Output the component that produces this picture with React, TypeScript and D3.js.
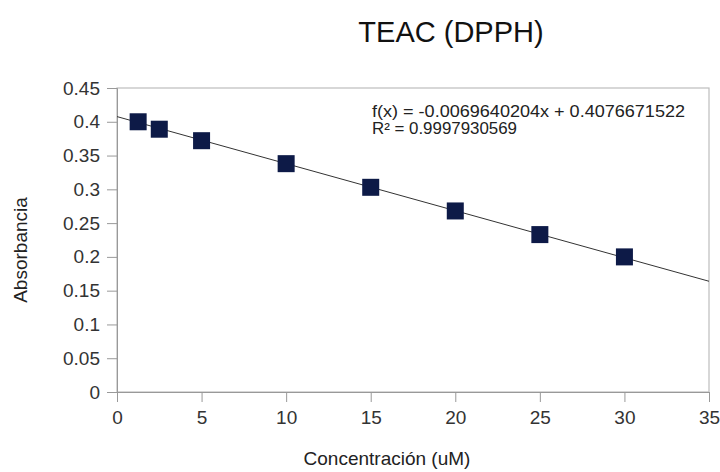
import React, { useEffect, useRef } from 'react'
import * as d3 from 'd3'

const concentrations = [1.25, 2.5, 5, 10, 15, 20, 25, 30]
const absorbance = [0.4, 0.389, 0.372, 0.338, 0.303, 0.268, 0.233, 0.2]
const xTicks = [0, 5, 10, 15, 20, 25, 30, 35]
const yTicks = [0, 0.05, 0.1, 0.15, 0.2, 0.25, 0.3, 0.35, 0.4, 0.45]
const slope = -0.0069640204
const intercept = 0.4076671522
const equationLines = ['f(x) = -0.0069640204x + 0.4076671522', 'R² = 0.9997930569']

const width = 720
const height = 472
const margin = { top: 88, right: 11, bottom: 80, left: 117 }
const font = '"Liberation Sans", Arial, sans-serif'

export default function App() {
  const ref = useRef<SVGSVGElement>(null)

  useEffect(() => {
    const svg = d3.select(ref.current)
    svg.selectAll('*').remove()

    const chartWidth = width - margin.left - margin.right
    const chartHeight = height - margin.top - margin.bottom

    const x = d3.scaleLinear().domain([0, 35]).range([0, chartWidth])
    const y = d3.scaleLinear().domain([0, 0.45]).range([chartHeight, 0])

    const chart = svg.append('g')
      .style('font-family', font)
      .attr('transform', `translate(${margin.left}, ${margin.top})`)

    // plot frame
    chart.append('rect')
      .attr('width', chartWidth)
      .attr('height', chartHeight)
      .attr('fill', 'none')
      .attr('stroke', '#bdbdbd')
      .attr('stroke-width', 1.2)

    const xAxis = chart.append('g')
      .attr('transform', `translate(0, ${chartHeight})`)
      .call(d3.axisBottom(x).tickValues(xTicks).tickSize(10).tickPadding(9).tickFormat(d3.format('d')))
    xAxis.select('.domain').attr('stroke', '#999')
    xAxis.selectAll('line').attr('stroke', '#999')
    xAxis.selectAll('text').style('font-size', '19px').style('font-family', font).attr('fill', '#333')

    const yAxis = chart.append('g')
      .call(d3.axisLeft(y).tickValues(yTicks).tickSize(10).tickPadding(7).tickFormat(d => String(+(+d).toFixed(2))))
    yAxis.select('.domain').attr('stroke', '#999')
    yAxis.selectAll('line').attr('stroke', '#999')
    yAxis.selectAll('text').style('font-size', '19px').style('font-family', font).attr('fill', '#333')

    // trend line
    chart.append('line')
      .attr('x1', x(0))
      .attr('y1', y(intercept))
      .attr('x2', x(35))
      .attr('y2', y(slope * 35 + intercept))
      .attr('stroke', '#333')
      .attr('stroke-width', 1)

    const size = 17
    chart.selectAll('.pt')
      .data(concentrations)
      .enter()
      .append('rect')
      .attr('x', d => x(d) - size / 2)
      .attr('y', (d, i) => y(absorbance[i]) - size / 2)
      .attr('width', size)
      .attr('height', size)
      .attr('fill', '#0d1a47')

    chart.selectAll('.eq')
      .data(equationLines)
      .enter()
      .append('text')
      .attr('x', 255)
      .attr('y', (d, i) => 29 + i * 17)
      .attr('textLength', (d, i) => (i === 0 ? 313 : 145))
      .attr('lengthAdjust', 'spacingAndGlyphs')
      .text(d => d)
      .style('font-size', '16px')
      .attr('fill', '#222')

    svg.append('text')
      .attr('x', 451)
      .attr('y', 42)
      .attr('text-anchor', 'middle')
      .text('TEAC (DPPH)')
      .style('font-family', font)
      .style('font-size', '29px')
      .attr('fill', '#111')

    svg.append('text')
      .attr('x', 387)
      .attr('y', 465)
      .attr('text-anchor', 'middle')
      .text('Concentración (uM)')
      .style('font-family', font)
      .style('font-size', '19px')
      .attr('fill', '#222')

    svg.append('text')
      .attr('transform', `translate(27, 250) rotate(-90)`)
      .attr('text-anchor', 'middle')
      .text('Absorbancia')
      .style('font-family', font)
      .style('font-size', '19px')
      .attr('fill', '#222')
  }, [])

  return (
    <svg ref={ref} width={width} height={height} style={{ position: 'absolute', left: 0, top: 0, background: '#fff' }} />
  )
}
